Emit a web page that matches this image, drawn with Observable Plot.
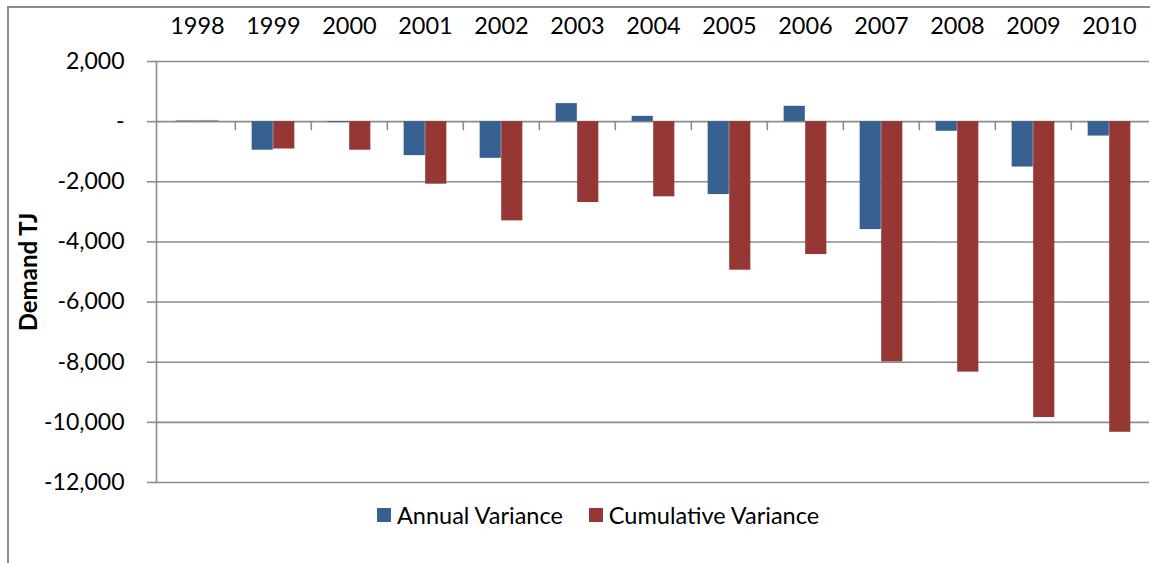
<!DOCTYPE html>
<html>
<head>
<meta charset="utf-8">
<script src="https://cdn.jsdelivr.net/npm/d3@7"></script>
<script src="https://cdn.jsdelivr.net/npm/@observablehq/plot@0.6"></script>
<style>
  html, body { margin: 0; padding: 0; background: #fff; }
  #wrap { position: relative; width: 1150px; height: 563px; overflow: hidden; font-family: Lato, "Open Sans", sans-serif; }
  #border { position: absolute; left: 7px; top: 6px; right: -4px; bottom: -4px; border-left: 2px solid #8c8c8c; border-top: 2px solid #8c8c8c; }
  #chart { position: absolute; left: 0; top: 0; }
  #legend { position: absolute; top: 501px; left: 377px; display: flex; align-items: center; font-size: 23.5px; color: #000; white-space: nowrap; }
  #legend .item { display: flex; align-items: center; margin-right: 26px; }
  #legend .sw { width: 14px; height: 14px; margin-right: 6px; }
</style>
</head>
<body>
<div id="wrap">
  <div id="border"></div>
  <div id="chart"></div>
  <div id="legend"></div>
</div>
<script>
// Demand variance by year (TJ)
const years = [1998, 1999, 2000, 2001, 2002, 2003, 2004, 2005, 2006, 2007, 2008, 2009, 2010];
const annualVariance = [20, -950, -30, -1130, -1220, 600, 176, -2425, 510, -3590, -320, -1510, -480];
const cumulativeVariance = [20, -910, -950, -2080, -3300, -2690, -2500, -4940, -4420, -7990, -8330, -9840, -10330];
const seriesNames = ["Annual Variance", "Cumulative Variance"];
const seriesColors = ["#365f92", "#953735"];
const yTicks = [2000, 0, -2000, -4000, -6000, -8000, -10000, -12000];

const W = 1150, H = 563;
const marginLeft = 156, marginRight = 1, marginTop = 61, marginBottom = 81;
const bandWidth = (W - marginLeft - marginRight) / years.length;
const barWidth = bandWidth * 0.282;
const sideGap = (bandWidth - 2 * barWidth) / 2;

const rows = years.flatMap((year, i) => [
  {year, series: seriesNames[0], value: annualVariance[i]},
  {year, series: seriesNames[1], value: cumulativeVariance[i]}
]);

// Thousands separators with a plain hyphen for negatives; zero shows as a dash
const thousands = d3.formatLocale({decimal: ".", thousands: ",", grouping: [3], currency: ["", ""], minus: "-"}).format(",");
const fmt = d => d === 0 ? "-" : thousands(d);
const gridColor = "#8c8c8c";

const chart = Plot.plot({
  width: W,
  height: H,
  marginLeft, marginRight, marginTop, marginBottom,
  style: {fontFamily: "Lato, 'Open Sans', sans-serif", fontSize: "23px", color: "#000", background: "transparent", overflow: "visible"},
  x: {type: "band", domain: years, padding: 0},
  y: {domain: [-12000, 2000]},
  color: {domain: seriesNames, range: seriesColors},
  marks: [
    Plot.gridY(yTicks, {stroke: gridColor, strokeWidth: 1.6, strokeOpacity: 1}),
    Plot.axisY({ticks: yTicks, tickSize: 9, tickPadding: 23, tickFormat: fmt, stroke: gridColor, strokeWidth: 1.6, fontSize: 23, label: null}),
    Plot.frame({anchor: "left", stroke: gridColor, strokeWidth: 1.6}),
    Plot.ruleX(years.slice(1), {x: d => d, y1: 0, y2: -300, dx: -bandWidth / 2, stroke: gridColor, strokeWidth: 1.6}),
    Plot.barY(rows.filter(d => d.series === seriesNames[0]), {
      x: "year", y: "value", fill: "series",
      insetLeft: sideGap, insetRight: sideGap + barWidth
    }),
    Plot.barY(rows.filter(d => d.series === seriesNames[1]), {
      x: "year", y: "value", fill: "series",
      insetLeft: sideGap + barWidth, insetRight: sideGap
    }),
    Plot.axisX({anchor: "top", tickSize: 0, tickPadding: 28, tickFormat: d => String(d), fontSize: 23.5, label: null}),
    Plot.text(["Demand TJ"], {frameAnchor: "left", textAnchor: "middle", rotate: -90, dx: -127, fontWeight: "bold", fontSize: 24, fill: "#000"})
  ]
});
document.getElementById("chart").appendChild(chart);

// Legend below the plot
const legend = document.getElementById("legend");
seriesNames.forEach((name, i) => {
  const item = document.createElement("div");
  item.className = "item";
  const sw = document.createElement("div");
  sw.className = "sw";
  sw.style.background = seriesColors[i];
  const label = document.createElement("span");
  label.textContent = name;
  item.appendChild(sw);
  item.appendChild(label);
  legend.appendChild(item);
});
</script>
</body>
</html>
